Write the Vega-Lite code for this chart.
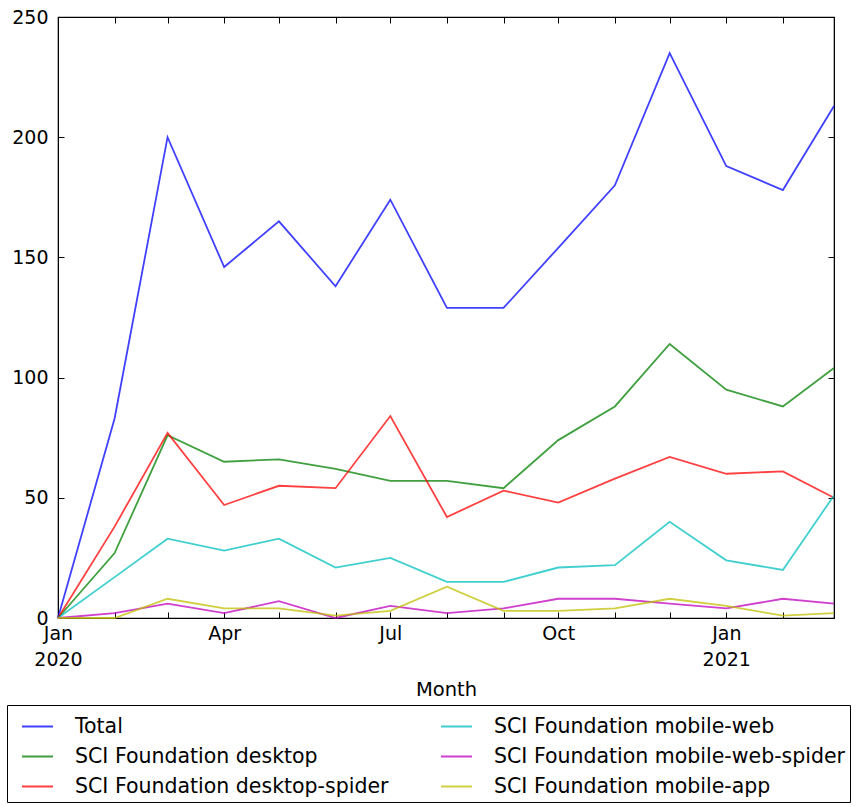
{
  "$schema": "https://vega.github.io/schema/vega-lite/v6.json",
  "width": 776,
  "height": 601,
  "autosize": {"type": "none"},
  "padding": {"left": 58, "top": 17, "right": 28, "bottom": 189},
  "config": {
    "font": "DejaVu Sans",
    "view": {"stroke": "black", "strokeWidth": 1.2},
    "axis": {
      "domainColor": "black",
      "tickColor": "black",
      "labelColor": "black",
      "titleColor": "black",
      "grid": false,
      "labelFontSize": 19,
      "titleFontSize": 19.5,
      "titleFontWeight": "normal",
      "tickSize": -6,
      "labelFont": "DejaVu Sans",
      "titleFont": "DejaVu Sans"
    }
  },
  "datasets": {
    "d": [
      {"month": "2020-01-01T00:00:00", "series": "Total", "value": 0},
      {"month": "2020-02-01T00:00:00", "series": "Total", "value": 83},
      {"month": "2020-03-01T00:00:00", "series": "Total", "value": 200},
      {"month": "2020-04-01T00:00:00", "series": "Total", "value": 146},
      {"month": "2020-05-01T00:00:00", "series": "Total", "value": 165},
      {"month": "2020-06-01T00:00:00", "series": "Total", "value": 138},
      {"month": "2020-07-01T00:00:00", "series": "Total", "value": 174},
      {"month": "2020-08-01T00:00:00", "series": "Total", "value": 129},
      {"month": "2020-09-01T00:00:00", "series": "Total", "value": 129},
      {"month": "2020-10-01T00:00:00", "series": "Total", "value": 154},
      {"month": "2020-11-01T00:00:00", "series": "Total", "value": 180},
      {"month": "2020-12-01T00:00:00", "series": "Total", "value": 235},
      {"month": "2021-01-01T00:00:00", "series": "Total", "value": 188},
      {"month": "2021-02-01T00:00:00", "series": "Total", "value": 178},
      {"month": "2021-03-01T00:00:00", "series": "Total", "value": 213},

      {"month": "2020-01-01T00:00:00", "series": "SCI Foundation desktop", "value": 0},
      {"month": "2020-02-01T00:00:00", "series": "SCI Foundation desktop", "value": 27},
      {"month": "2020-03-01T00:00:00", "series": "SCI Foundation desktop", "value": 76},
      {"month": "2020-04-01T00:00:00", "series": "SCI Foundation desktop", "value": 65},
      {"month": "2020-05-01T00:00:00", "series": "SCI Foundation desktop", "value": 66},
      {"month": "2020-06-01T00:00:00", "series": "SCI Foundation desktop", "value": 62},
      {"month": "2020-07-01T00:00:00", "series": "SCI Foundation desktop", "value": 57},
      {"month": "2020-08-01T00:00:00", "series": "SCI Foundation desktop", "value": 57},
      {"month": "2020-09-01T00:00:00", "series": "SCI Foundation desktop", "value": 54},
      {"month": "2020-10-01T00:00:00", "series": "SCI Foundation desktop", "value": 74},
      {"month": "2020-11-01T00:00:00", "series": "SCI Foundation desktop", "value": 88},
      {"month": "2020-12-01T00:00:00", "series": "SCI Foundation desktop", "value": 114},
      {"month": "2021-01-01T00:00:00", "series": "SCI Foundation desktop", "value": 95},
      {"month": "2021-02-01T00:00:00", "series": "SCI Foundation desktop", "value": 88},
      {"month": "2021-03-01T00:00:00", "series": "SCI Foundation desktop", "value": 104},

      {"month": "2020-01-01T00:00:00", "series": "SCI Foundation desktop-spider", "value": 0},
      {"month": "2020-02-01T00:00:00", "series": "SCI Foundation desktop-spider", "value": 38},
      {"month": "2020-03-01T00:00:00", "series": "SCI Foundation desktop-spider", "value": 77},
      {"month": "2020-04-01T00:00:00", "series": "SCI Foundation desktop-spider", "value": 47},
      {"month": "2020-05-01T00:00:00", "series": "SCI Foundation desktop-spider", "value": 55},
      {"month": "2020-06-01T00:00:00", "series": "SCI Foundation desktop-spider", "value": 54},
      {"month": "2020-07-01T00:00:00", "series": "SCI Foundation desktop-spider", "value": 84},
      {"month": "2020-08-01T00:00:00", "series": "SCI Foundation desktop-spider", "value": 42},
      {"month": "2020-09-01T00:00:00", "series": "SCI Foundation desktop-spider", "value": 53},
      {"month": "2020-10-01T00:00:00", "series": "SCI Foundation desktop-spider", "value": 48},
      {"month": "2020-11-01T00:00:00", "series": "SCI Foundation desktop-spider", "value": 58},
      {"month": "2020-12-01T00:00:00", "series": "SCI Foundation desktop-spider", "value": 67},
      {"month": "2021-01-01T00:00:00", "series": "SCI Foundation desktop-spider", "value": 60},
      {"month": "2021-02-01T00:00:00", "series": "SCI Foundation desktop-spider", "value": 61},
      {"month": "2021-03-01T00:00:00", "series": "SCI Foundation desktop-spider", "value": 50},

      {"month": "2020-01-01T00:00:00", "series": "SCI Foundation mobile-web", "value": 0},
      {"month": "2020-02-01T00:00:00", "series": "SCI Foundation mobile-web", "value": 17},
      {"month": "2020-03-01T00:00:00", "series": "SCI Foundation mobile-web", "value": 33},
      {"month": "2020-04-01T00:00:00", "series": "SCI Foundation mobile-web", "value": 28},
      {"month": "2020-05-01T00:00:00", "series": "SCI Foundation mobile-web", "value": 33},
      {"month": "2020-06-01T00:00:00", "series": "SCI Foundation mobile-web", "value": 21},
      {"month": "2020-07-01T00:00:00", "series": "SCI Foundation mobile-web", "value": 25},
      {"month": "2020-08-01T00:00:00", "series": "SCI Foundation mobile-web", "value": 15},
      {"month": "2020-09-01T00:00:00", "series": "SCI Foundation mobile-web", "value": 15},
      {"month": "2020-10-01T00:00:00", "series": "SCI Foundation mobile-web", "value": 21},
      {"month": "2020-11-01T00:00:00", "series": "SCI Foundation mobile-web", "value": 22},
      {"month": "2020-12-01T00:00:00", "series": "SCI Foundation mobile-web", "value": 40},
      {"month": "2021-01-01T00:00:00", "series": "SCI Foundation mobile-web", "value": 24},
      {"month": "2021-02-01T00:00:00", "series": "SCI Foundation mobile-web", "value": 20},
      {"month": "2021-03-01T00:00:00", "series": "SCI Foundation mobile-web", "value": 51},

      {"month": "2020-01-01T00:00:00", "series": "SCI Foundation mobile-web-spider", "value": 0},
      {"month": "2020-02-01T00:00:00", "series": "SCI Foundation mobile-web-spider", "value": 2},
      {"month": "2020-03-01T00:00:00", "series": "SCI Foundation mobile-web-spider", "value": 6},
      {"month": "2020-04-01T00:00:00", "series": "SCI Foundation mobile-web-spider", "value": 2},
      {"month": "2020-05-01T00:00:00", "series": "SCI Foundation mobile-web-spider", "value": 7},
      {"month": "2020-06-01T00:00:00", "series": "SCI Foundation mobile-web-spider", "value": 0},
      {"month": "2020-07-01T00:00:00", "series": "SCI Foundation mobile-web-spider", "value": 5},
      {"month": "2020-08-01T00:00:00", "series": "SCI Foundation mobile-web-spider", "value": 2},
      {"month": "2020-09-01T00:00:00", "series": "SCI Foundation mobile-web-spider", "value": 4},
      {"month": "2020-10-01T00:00:00", "series": "SCI Foundation mobile-web-spider", "value": 8},
      {"month": "2020-11-01T00:00:00", "series": "SCI Foundation mobile-web-spider", "value": 8},
      {"month": "2020-12-01T00:00:00", "series": "SCI Foundation mobile-web-spider", "value": 6},
      {"month": "2021-01-01T00:00:00", "series": "SCI Foundation mobile-web-spider", "value": 4},
      {"month": "2021-02-01T00:00:00", "series": "SCI Foundation mobile-web-spider", "value": 8},
      {"month": "2021-03-01T00:00:00", "series": "SCI Foundation mobile-web-spider", "value": 6},

      {"month": "2020-01-01T00:00:00", "series": "SCI Foundation mobile-app", "value": 0},
      {"month": "2020-02-01T00:00:00", "series": "SCI Foundation mobile-app", "value": 0},
      {"month": "2020-03-01T00:00:00", "series": "SCI Foundation mobile-app", "value": 8},
      {"month": "2020-04-01T00:00:00", "series": "SCI Foundation mobile-app", "value": 4},
      {"month": "2020-05-01T00:00:00", "series": "SCI Foundation mobile-app", "value": 4},
      {"month": "2020-06-01T00:00:00", "series": "SCI Foundation mobile-app", "value": 1},
      {"month": "2020-07-01T00:00:00", "series": "SCI Foundation mobile-app", "value": 3},
      {"month": "2020-08-01T00:00:00", "series": "SCI Foundation mobile-app", "value": 13},
      {"month": "2020-09-01T00:00:00", "series": "SCI Foundation mobile-app", "value": 3},
      {"month": "2020-10-01T00:00:00", "series": "SCI Foundation mobile-app", "value": 3},
      {"month": "2020-11-01T00:00:00", "series": "SCI Foundation mobile-app", "value": 4},
      {"month": "2020-12-01T00:00:00", "series": "SCI Foundation mobile-app", "value": 8},
      {"month": "2021-01-01T00:00:00", "series": "SCI Foundation mobile-app", "value": 5},
      {"month": "2021-02-01T00:00:00", "series": "SCI Foundation mobile-app", "value": 1},
      {"month": "2021-03-01T00:00:00", "series": "SCI Foundation mobile-app", "value": 2}
    ]
  },
  "data": {"name": "d"},
  "layer": [
    {
      "mark": {"type": "line", "strokeWidth": 1.8, "opacity": 0.75},
      "encoding": {
        "x": {
          "field": "month",
          "type": "temporal",
          "scale": {"nice": false},
          "axis": {
            "orient": "bottom",
            "title": "Month",
            "titlePadding": 11,
            "tickCount": "month",
            "labelPadding": 12,
            "labelLineHeight": 26,
            "labelOverlap": false,
            "labelFlush": false,
            "labelExpr": "month(datum.value) == 0 ? ['Jan', '' + year(datum.value)] : (month(datum.value) == 3 ? 'Apr' : (month(datum.value) == 6 ? 'Jul' : (month(datum.value) == 9 ? 'Oct' : '')))"
          }
        },
        "y": {
          "field": "value",
          "type": "quantitative",
          "scale": {"domain": [0, 250], "nice": false},
          "axis": {
            "orient": "left",
            "title": null,
            "values": [0, 50, 100, 150, 200, 250],
            "labelPadding": 16
          }
        },
        "color": {
          "field": "series",
          "type": "nominal",
          "scale": {
            "domain": ["Total", "SCI Foundation desktop", "SCI Foundation desktop-spider", "SCI Foundation mobile-web", "SCI Foundation mobile-web-spider", "SCI Foundation mobile-app"],
            "range": ["#0000ff", "#008000", "#ff0000", "#00bfbf", "#bf00bf", "#bfbf00"]
          },
          "legend": {
            "orient": "none",
            "legendX": -51,
            "legendY": 688,
            "title": null,
            "columns": 2,
            "columnPadding": 42,
            "rowPadding": 3,
            "padding": 5,
            "strokeColor": "black",
            "fillColor": "white",
            "symbolType": "stroke",
            "symbolSize": 961,
            "symbolOffset": 9,
            "symbolStrokeWidth": 2,
            "symbolOpacity": 0.75,
            "labelFontSize": 20.5,
            "labelFont": "DejaVu Sans",
            "labelColor": "black",
            "labelOffset": 21,
            "labelLimit": 500
          }
        }
      }
    },
    {
      "mark": {"type": "line", "opacity": 0},
      "encoding": {
        "x": {
          "field": "month",
          "type": "temporal",
          "axis": {
            "orient": "top",
            "title": null,
            "labels": false,
            "tickCount": "month"
          }
        },
        "y": {
          "field": "value",
          "type": "quantitative",
          "axis": {
            "orient": "right",
            "title": null,
            "labels": false,
            "values": [0, 50, 100, 150, 200, 250]
          }
        },
        "detail": {"field": "series", "type": "nominal"}
      }
    }
  ],
  "resolve": {"axis": {"x": "independent", "y": "independent"}}
}
